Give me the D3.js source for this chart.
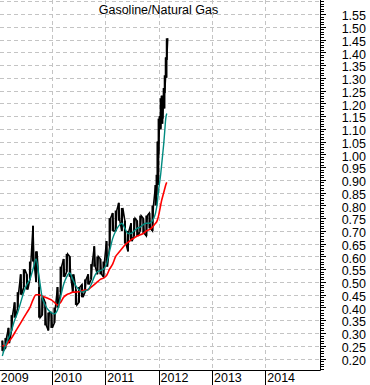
<!DOCTYPE html>
<html>
<head>
<meta charset="utf-8">
<script src="https://cdn.jsdelivr.net/npm/d3@7"></script>
<style>
  body { margin: 0; background: #fff; }
  svg { display: block; font-family: "Liberation Sans", Arial, sans-serif; }
</style>
</head>
<body>
<svg id="chart" width="370" height="385"></svg>
<script>
// sampled dates (3-weekly, then weekly for the 2012 surge)
const dates = [
  '2009-01-25', '2009-02-15', '2009-03-08', '2009-03-29', '2009-04-19', '2009-05-10',
  '2009-05-31', '2009-06-21', '2009-07-12', '2009-08-02', '2009-08-23', '2009-09-13',
  '2009-10-04', '2009-10-25', '2009-11-15', '2009-12-06', '2009-12-27', '2010-01-17',
  '2010-02-07', '2010-02-28', '2010-03-21', '2010-04-11', '2010-05-02', '2010-05-23',
  '2010-06-13', '2010-07-04', '2010-07-25', '2010-08-15', '2010-09-05', '2010-09-26',
  '2010-10-17', '2010-11-07', '2010-11-28', '2010-12-19', '2011-01-09', '2011-01-30',
  '2011-02-20', '2011-03-13', '2011-04-03', '2011-04-24', '2011-05-15', '2011-06-05',
  '2011-06-26', '2011-07-17', '2011-08-07', '2011-08-28', '2011-09-18', '2011-10-09',
  '2011-10-30', '2011-11-20', '2011-12-11', '2011-12-18', '2011-12-25', '2012-01-01',
  '2012-01-08', '2012-01-15', '2012-01-22', '2012-01-29', '2012-02-05', '2012-02-12',
  '2012-02-19', '2012-02-26'
];

const highs = [
  0.27, 0.28, 0.32, 0.37, 0.42, 0.46, 0.53, 0.55, 0.53, 0.58, 0.72, 0.62,
  0.48, 0.44, 0.42, 0.38, 0.38, 0.40, 0.48, 0.56, 0.59, 0.61, 0.60, 0.53,
  0.47, 0.48, 0.49, 0.51, 0.53, 0.57, 0.64, 0.60, 0.59, 0.58, 0.66, 0.75,
  0.77, 0.78, 0.81, 0.79, 0.74, 0.70, 0.73, 0.75, 0.74, 0.76, 0.75, 0.76,
  0.77, 0.80, 0.88, 0.92, 1.05, 1.14, 1.15, 1.22, 1.23, 1.23, 1.26, 1.31,
  1.38, 1.455
];

const lows = [
  0.23, 0.24, 0.26, 0.31, 0.36, 0.40, 0.45, 0.48, 0.47, 0.51, 0.58, 0.50,
  0.36, 0.37, 0.33, 0.31, 0.32, 0.34, 0.40, 0.46, 0.52, 0.54, 0.52, 0.46,
  0.41, 0.42, 0.44, 0.46, 0.49, 0.51, 0.56, 0.53, 0.53, 0.52, 0.56, 0.64,
  0.70, 0.70, 0.74, 0.70, 0.65, 0.62, 0.66, 0.68, 0.68, 0.70, 0.69, 0.68,
  0.71, 0.70, 0.80, 0.84, 0.88, 1.00, 1.10, 1.10, 1.12, 1.14, 1.18, 1.24,
  1.30, 1.37
];

// short moving average (teal)
const fastMA = [
  0.21, 0.25, 0.28, 0.31, 0.35, 0.38, 0.42, 0.46, 0.49, 0.51, 0.55, 0.59,
  0.52, 0.44, 0.41, 0.39, 0.38, 0.375, 0.39, 0.44, 0.49, 0.52, 0.535, 0.51,
  0.485, 0.47, 0.46, 0.465, 0.47, 0.49, 0.52, 0.54, 0.545, 0.55, 0.57, 0.62,
  0.67, 0.70, 0.72, 0.73, 0.71, 0.69, 0.69, 0.70, 0.71, 0.715, 0.725, 0.73,
  0.73, 0.74, 0.77, 0.79, 0.82, 0.86, 0.89, 0.92, 0.96, 1.00, 1.04, 1.09,
  1.14, 1.16
];

// long moving average (red)
const slowMA = [
  0.25, 0.25, 0.265, 0.28, 0.30, 0.32, 0.34, 0.36, 0.38, 0.40, 0.43, 0.45,
  0.45, 0.445, 0.44, 0.435, 0.43, 0.42, 0.41, 0.42, 0.44, 0.45, 0.455, 0.46,
  0.46, 0.462, 0.465, 0.468, 0.47, 0.48, 0.49, 0.50, 0.51, 0.515, 0.525, 0.55,
  0.57, 0.60, 0.615, 0.63, 0.645, 0.655, 0.665, 0.672, 0.68, 0.685, 0.69, 0.70,
  0.705, 0.715, 0.73, 0.735, 0.745, 0.76, 0.78, 0.80, 0.82, 0.835, 0.85, 0.865,
  0.88, 0.89
];

const yearLabels = ['2009', '2010', '2011', '2012', '2013', '2014'];

const yTickLabels = [
  '0.20', '0.25', '0.30', '0.35', '0.40', '0.45', '0.50', '0.55', '0.60', '0.65',
  '0.70', '0.75', '0.80', '0.85', '0.90', '0.95', '1.00', '1.05', '1.10', '1.15',
  '1.20', '1.25', '1.30', '1.35', '1.40', '1.45', '1.50', '1.55'
];

const title = 'Gasoline/Natural Gas';

const width = 320;
const height = 370;
const parse = d3.timeParse('%Y-%m-%d');
const data = dates.map((d, i) => ({
  date: parse(d), hi: highs[i], lo: lows[i], fast: fastMA[i], slow: slowMA[i]
}));

const x = d3.scaleTime()
  .domain([new Date(2009, 0, 9), new Date(2015, 0, 1)])
  .range([0, 318.5]);
const y = d3.scaleLinear().domain([0.155, 1.605]).range([height, 0]);

const svg = d3.select('#chart');
const chart = svg.append('g');

// grid
const yearDates = yearLabels.map(d => new Date(+d, 0, 1));
const yVals = yTickLabels.map(Number);

chart.append('g')
  .selectAll('line')
  .data(yVals.concat([1.60]))
  .enter().append('line')
  .attr('x1', 0)
  .attr('x2', width)
  .attr('y1', d => Math.round(y(d)) + 0.5)
  .attr('y2', d => Math.round(y(d)) + 0.5)
  .attr('stroke', '#c4c4c4')
  .attr('stroke-dasharray', '4,3');

chart.append('g')
  .selectAll('line')
  .data(yearDates.slice(1))
  .enter().append('line')
  .attr('x1', d => Math.round(x(d)) + 0.5)
  .attr('x2', d => Math.round(x(d)) + 0.5)
  .attr('y1', 0)
  .attr('y2', height)
  .attr('stroke', '#c4c4c4')
  .attr('stroke-dasharray', '4,3');

// price bars
const bars = chart.append('g');
bars.selectAll('line')
  .data(data)
  .enter().append('line')
  .attr('x1', d => x(d.date))
  .attr('x2', d => x(d.date))
  .attr('y1', d => y(d.lo))
  .attr('y2', d => y(d.hi))
  .attr('stroke', '#000')
  .attr('stroke-width', 2);

let zig = '';
data.forEach((d, i) => {
  zig += (i ? 'L' : 'M') + x(d.date) + ',' + y(i % 2 ? d.lo : d.hi);
  zig += 'L' + (x(d.date) + 1) + ',' + y(i % 2 ? d.hi : d.lo);
});
bars.append('path')
  .attr('d', zig)
  .attr('fill', 'none')
  .attr('stroke', '#000')
  .attr('stroke-width', 1.5);

// moving averages
const fastLine = d3.line()
  .x(d => x(d.date))
  .y(d => y(d.fast))
  .curve(d3.curveMonotoneX);

const slowLine = d3.line()
  .x(d => x(d.date))
  .y(d => y(d.slow))
  .curve(d3.curveMonotoneX);

chart.append('path')
  .attr('d', slowLine(data))
  .attr('fill', 'none')
  .attr('stroke', '#ff0000')
  .attr('stroke-width', 1.6);

chart.append('path')
  .attr('d', fastLine(data))
  .attr('fill', 'none')
  .attr('stroke', '#008b80')
  .attr('stroke-width', 1.4);

// right axis
const minorTicks = d3.range(16, 161).map(d => d / 100);
chart.append('g')
  .attr('transform', 'translate(' + width + ',0)')
  .call(d3.axisRight(y).tickValues(minorTicks).tickSize(4).tickFormat(''))
  .call(g => g.select('.domain').remove())
  .selectAll('line').attr('shape-rendering', 'crispEdges');

const yAxis = chart.append('g')
  .attr('transform', 'translate(' + width + ',0)')
  .call(d3.axisRight(y).tickValues(yVals).tickSize(6).tickFormat((d, i) => yTickLabels[i]));
yAxis.select('.domain').remove();
yAxis.selectAll('line').attr('shape-rendering', 'crispEdges');
yAxis.selectAll('text')
  .attr('x', 46)
  .attr('dy', '0.62em')
  .attr('y', -2)
  .attr('text-anchor', 'end')
  .style('font-family', '"Liberation Sans", Arial, sans-serif')
  .style('font-size', '12.5px')
  .attr('fill', '#000');

chart.append('line')
  .attr('x1', width + 0.5).attr('x2', width + 0.5)
  .attr('y1', 0).attr('y2', height + 0.5)
  .attr('stroke', '#000');

// bottom axis
chart.append('line')
  .attr('x1', 0).attr('x2', width + 0.5)
  .attr('y1', height + 0.5).attr('y2', height + 0.5)
  .attr('stroke', '#000');

const xAxis = chart.append('g');
xAxis.selectAll('line')
  .data(yearDates)
  .enter().append('line')
  .attr('x1', d => Math.round(x(d)) + 0.5)
  .attr('x2', d => Math.round(x(d)) + 0.5)
  .attr('y1', height)
  .attr('y2', 385)
  .attr('stroke', '#000');

xAxis.selectAll('text')
  .data(yearDates)
  .enter().append('text')
  .attr('x', d => Math.max(x(d) + 2, 0.5))
  .attr('y', 382)
  .style('font-size', '12.5px')
  .text((d, i) => yearLabels[i]);

// title
svg.append('text')
  .attr('x', 158.5)
  .attr('y', 14)
  .attr('text-anchor', 'middle')
  .style('font-size', '12.5px')
  .text(title);
</script>
</body>
</html>
